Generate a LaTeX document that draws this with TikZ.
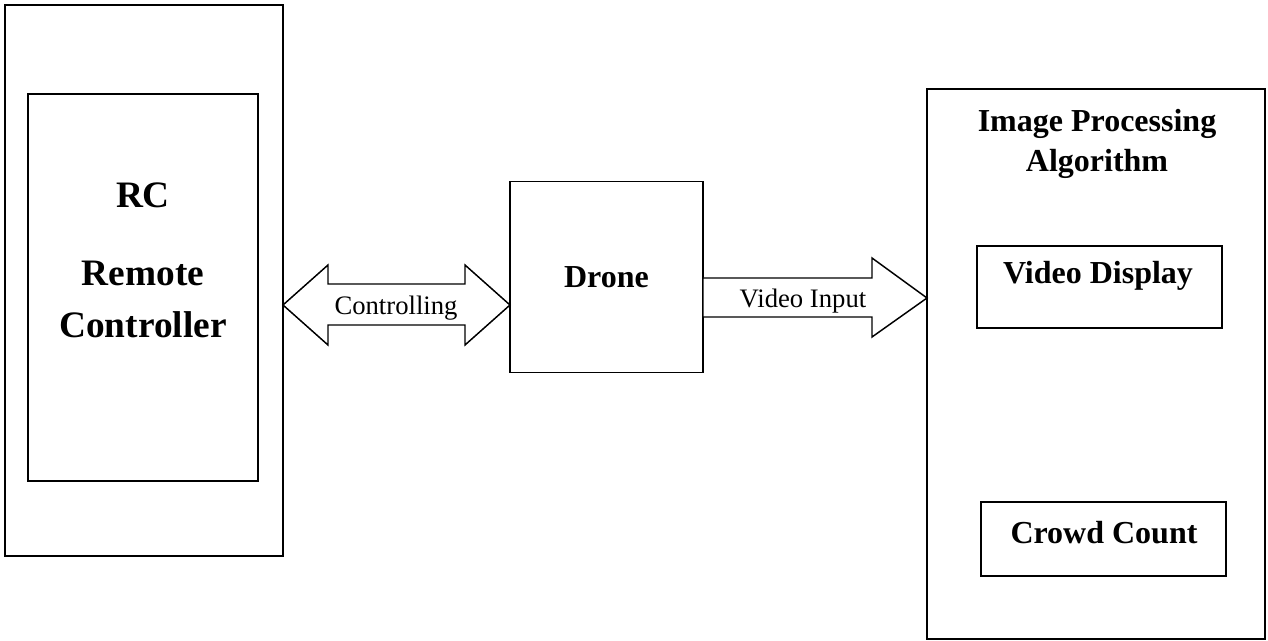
\documentclass[tikz,border=0pt]{standalone}
\usepackage{fontspec}
\setmainfont{Liberation Serif}
\usetikzlibrary{calc}
\tikzset{
  blk/.style={draw,line width=1.2pt,inner sep=0pt,outer sep=0pt},
  btxt/.style={font=\fontsize{24}{30}\selectfont\bfseries,inner sep=0pt,align=center},
  bigtxt/.style={btxt,font=\fontsize{28}{39}\selectfont\bfseries},
  ltxt/.style={font=\fontsize{20}{24}\selectfont,inner sep=0pt},
  fat/.style={draw,line width=1.1pt,line join=miter,fill=white},
}

\begin{document}
\begin{tikzpicture}[x=0.75pt,y=-0.75pt]
\useasboundingbox (0,0) rectangle (1268,641);
% remote controller side
\node[blk,minimum width=208.5pt,minimum height=413.25pt] (rcouter) at (144,280.5) {};
\node[blk,minimum width=172.5pt,minimum height=290.25pt] (rcinner) at (143,287.5) {};
\node[bigtxt,anchor=base] (rclbl) at (143,208) {RC};
\node[bigtxt] (rcname) at (143,299) {Remote\\Controller};
% drone
\node[blk,btxt,minimum width=144.75pt,minimum height=143.25pt] (drone) at (606.5,277) {Drone};
% image processing side
\node[blk,minimum width=253.5pt,minimum height=412.5pt] (ipa) at (1096,364) {};
\node[btxt] (ipalbl) at (1097,143.5) {Image Processing\\Algorithm};
\node[blk,minimum width=183.75pt,minimum height=61.5pt] (vdisp) at (1099.5,287) {};
\node[btxt,anchor=base] (vdisplbl) at (1098,284) {Video Display};
\node[blk,minimum width=183.75pt,minimum height=55.5pt] (crowd) at (1103.5,539) {};
\node[btxt,anchor=base] (crowdlbl) at (1104,543) {Crowd Count};
% block arrows
\coordinate (ctlaxis) at (0,305);
\coordinate (vidaxis) at (0,298);
\draw[fat] (rcouter.east |- ctlaxis) -- ++(45,-40) -- ++(0,19) -- ++(137,0) -- ++(0,-19)
  -- (drone.west |- ctlaxis) -- ++(-45,40) -- ++(0,-20) -- ++(-137,0) -- ++(0,20) -- cycle;
\node[ltxt,anchor=base] (ctllbl) at (396,315) {Controlling};
\draw[fat] ($(drone.east |- vidaxis)+(0,-20)$) -- ++(169,0) -- ++(0,-20)
  -- (ipa.west |- vidaxis) -- ++(-55,39) -- ++(0,-20) -- ($(drone.east |- vidaxis)+(0,19)$) -- cycle;
\node[ltxt,anchor=base] (vidlbl) at (803,308) {Video Input};
\end{tikzpicture}
\end{document}
